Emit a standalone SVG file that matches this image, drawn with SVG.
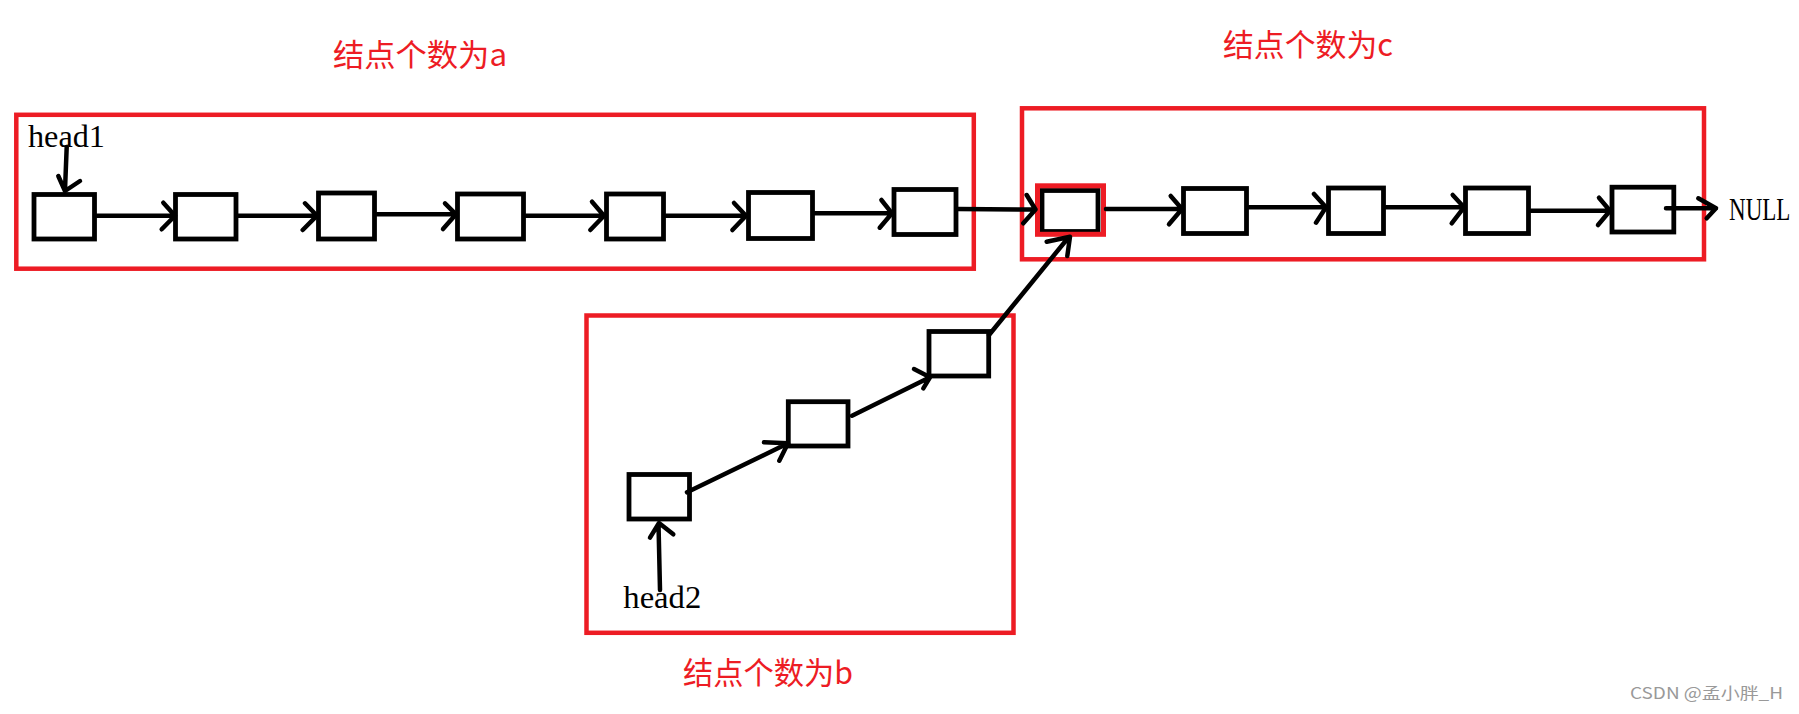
<svg xmlns="http://www.w3.org/2000/svg" width="1799" height="714" viewBox="0 0 1799 714">
<style>
.bg{fill:#fff}
.node{fill:#fff;stroke:#000;stroke-width:4.8}
.hl{fill:none;stroke:#ED1C24;stroke-width:5}
.box{fill:none;stroke:#ED1C24;stroke-width:4.5}
.link{fill:none;stroke:#000;stroke-width:4.5;stroke-linecap:round;stroke-linejoin:round}
.lbl{font-family:"Liberation Serif","Times New Roman",serif;font-size:31px;fill:#000}
.cnt{font-family:"Noto Sans CJK SC","Noto Sans",sans-serif;font-size:31px;fill:#ED1C24}
.wm{font-family:"Noto Sans CJK SC","Noto Sans",sans-serif;font-size:16px;fill:#999}
</style>
<rect class="bg" x="0" y="0" width="1799" height="714"/>
<g id="groups">
<rect id="group-a" class="box" x="16.3" y="114.8" width="957.5" height="153.9"/>
<rect id="group-c" class="box" x="1022" y="108.3" width="682" height="151"/>
<rect id="group-b" class="box" x="586.5" y="315.5" width="427" height="317.3"/>
</g>
<g id="nodes">
<g id="a1"><rect class="node" x="34" y="194.5" width="60.5" height="44.5"/></g>
<g id="a2"><rect class="node" x="175.5" y="194.5" width="60.5" height="44.5"/></g>
<g id="a3"><rect class="node" x="318.5" y="193" width="56" height="46"/></g>
<g id="a4"><rect class="node" x="457.5" y="194" width="66" height="45"/></g>
<g id="a5"><rect class="node" x="606.5" y="194" width="57" height="45"/></g>
<g id="a6"><rect class="node" x="748.5" y="192.5" width="64" height="46"/></g>
<g id="a7"><rect class="node" x="894" y="189.5" width="62" height="45"/></g>
<g id="c1"><rect class="node" x="1042" y="190.5" width="56" height="41"/><rect class="hl" x="1037.5" y="185.8" width="66" height="48.5"/></g>
<g id="c2"><rect class="node" x="1183.5" y="188.5" width="63" height="45"/></g>
<g id="c3"><rect class="node" x="1328.5" y="188" width="55" height="45.5"/></g>
<g id="c4"><rect class="node" x="1465.5" y="188" width="63" height="45.5"/></g>
<g id="c5"><rect class="node" x="1612" y="187.2" width="61.8" height="44.8"/></g>
<g id="b1"><rect class="node" x="629" y="474.5" width="60.5" height="44.5"/></g>
<g id="b2"><rect class="node" x="788.3" y="401.7" width="59.7" height="44.3"/></g>
<g id="b3"><rect class="node" x="929" y="331.5" width="59.7" height="44.5"/></g>
</g>
<g id="connectors">
<path class="link" d="M66.7 147 L65 190 M58.3 176 L65 191 L80 181"/>
<path class="link" d="M97 215.7 L175 215.7 M163.3 202.7 L175 215.7 L161.7 229.3"/>
<path class="link" d="M238 215.7 L317 215.7 M305 203.3 L317 215.7 L302.7 230"/>
<path class="link" d="M377 214.3 L456 214.3 M445 203.3 L456 214.3 L443 229"/>
<path class="link" d="M526 215.7 L604 215.7 M592 201.7 L604 215.7 L590.3 230"/>
<path class="link" d="M666 215.7 L746 215.7 M734 203 L746 215.7 L732.4 230"/>
<path class="link" d="M815 213.3 L892 213.3 M881.4 200 L892 213.3 L879.7 227.7"/>
<path class="link" d="M958 209 L1035 209.5 M1026.7 195 L1035.5 209.5 L1023.3 223.3"/>
<path class="link" d="M1106 209 L1181 209 M1170.7 196 L1182 209 L1169 224.3"/>
<path class="link" d="M1249 207.3 L1325 207.3 M1314 194 L1326 207.3 L1316 222.7"/>
<path class="link" d="M1386 207.3 L1463 207.3 M1452.7 195 L1464 207.3 L1451.7 223.3"/>
<path class="link" d="M1531 210.7 L1609 210.7 M1599 197.7 L1610 210.7 L1598 225"/>
<path class="link" d="M1666 208.3 L1716 208.3 M1698.3 198.3 L1716 208.3 L1706.7 218.3"/>
<path class="link" d="M660 590 L658.5 524 M650 537.7 L659 523 L673.3 534.3"/>
<path class="link" d="M687 492.3 L788 443.3 M764 442.3 L788 443.3 L779.3 460.7"/>
<path class="link" d="M852 415.7 L930 377.3 M914 369 L930 377.3 L923.3 388.3"/>
<path class="link" d="M989 335 L1068 238 M1046.7 241.7 L1070 236.7 L1067.3 256"/>
</g>
<g id="labels">
<text class="lbl" x="28" y="147" textLength="77" lengthAdjust="spacingAndGlyphs">head1</text>
<text class="lbl" x="623.3" y="608" textLength="78" lengthAdjust="spacingAndGlyphs">head2</text>
<text class="lbl" transform="translate(1729,219.5) scale(0.72,1)" x="0" y="0" style="font-size:32px">NULL</text>
<text class="cnt" x="333" y="66" textLength="174" lengthAdjust="spacingAndGlyphs">结点个数为a</text>
<text class="cnt" x="1223" y="56" textLength="170" lengthAdjust="spacingAndGlyphs">结点个数为c</text>
<text class="cnt" x="683" y="684" textLength="170" lengthAdjust="spacingAndGlyphs">结点个数为b</text>
<text class="wm" x="1630" y="699" textLength="153" lengthAdjust="spacingAndGlyphs">CSDN @孟小胖_H</text>
</g>
</svg>
